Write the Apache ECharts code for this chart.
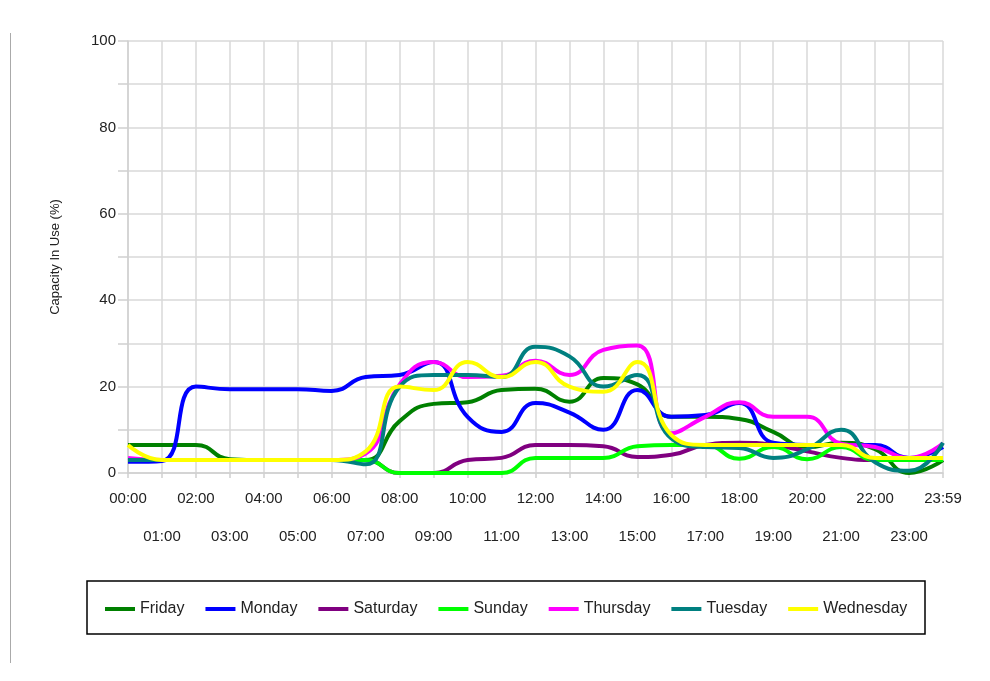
<!DOCTYPE html>
<html>
<head>
<meta charset="utf-8">
<script src="https://cdn.jsdelivr.net/npm/echarts@6/dist/echarts.min.js"></script>
<style>
  html, body { margin: 0; padding: 0; background: #fff; }
  #chart { width: 990px; height: 681px; }
</style>
</head>
<body>
<div id="chart"></div>
<script>
(function() {
  // hours along the x axis
  var hours = ['00:00', '01:00', '02:00', '03:00', '04:00', '05:00', '06:00', '07:00', '08:00', '09:00',
    '10:00', '11:00', '12:00', '13:00', '14:00', '15:00', '16:00', '17:00', '18:00', '19:00',
    '20:00', '21:00', '22:00', '23:00', '23:59'];

  var friday    = [6.5, 6.5, 6.5, 3.2, 3, 3, 3, 3, 12, 16, 16.4, 19.2, 19.5, 16.5, 22, 20.5, 13, 13, 12.5, 9.5, 6, 7, 5.5, 0, 3];
  var monday    = [2.6, 2.8, 20, 19.4, 19.4, 19.4, 19, 22.2, 22.7, 25.7, 13, 9.5, 16.2, 14, 10, 19.2, 13, 13.4, 16.2, 7, 6.5, 6.5, 6.5, 3.5, 6];
  var saturday  = [3, 3, 3, 3, 3, 3, 3, 3, 0, 0, 3, 3.5, 6.5, 6.5, 6.2, 3.7, 4.2, 6.5, 7, 6.5, 5, 3.5, 3, 3, 3];
  var sunday    = [3, 3, 3, 3, 3, 3, 3, 3, 0, 0, 0, 0, 3.5, 3.5, 3.5, 6.2, 6.5, 6.5, 3.3, 6, 3.2, 6, 3, 3, 3];
  var thursday  = [3.5, 3, 3, 3, 3, 3, 3, 4.5, 20.5, 25.7, 22.2, 22.5, 26, 22.7, 28.5, 29.5, 9.2, 13, 16.4, 13, 13, 6.8, 6, 3.5, 6.9];
  var tuesday   = [3, 3, 3, 3, 3, 3, 3, 2, 20, 22.7, 22.7, 22.2, 29.2, 27, 20, 22.7, 8, 6, 5.8, 3.5, 5.5, 10, 2.5, 0.5, 7];
  var wednesday = [6.5, 3, 3, 3, 3, 3, 3, 5, 20, 19.2, 25.7, 22.2, 25.7, 20, 18.8, 25.7, 8.8, 6.5, 6.5, 6.5, 6.5, 6.5, 3.5, 3.5, 3.5];

  var yTicks = [0, 20, 40, 60, 80, 100];

  var font = '"Liberation Sans", Arial, sans-serif';

  var myChart = echarts.init(document.getElementById('chart'));

  function line(name, data, color) {
    return {
      name: name,
      type: 'line',
      data: data,
      smooth: true,
      symbol: 'none',
      color: color,
      lineStyle: { width: 4, color: color }
    };
  }

  var option = {
    animation: false,
    textStyle: { fontFamily: font },
    grid: { left: 128, right: 47, top: 41, bottom: 208 },
    legend: {
      left: 100,
      top: 596,
      icon: 'rect',
      itemWidth: 30,
      itemHeight: 4,
      itemGap: 21,
      textStyle: { fontFamily: font, fontSize: 16, color: '#222' },
      data: ['Friday', 'Monday', 'Saturday', 'Sunday', 'Thursday', 'Tuesday', 'Wednesday']
    },
    graphic: [
      {
        type: 'rect',
        shape: { x: 87, y: 581, width: 838, height: 53 },
        style: { fill: 'none', stroke: '#000', lineWidth: 1.5 }
      },
      {
        type: 'line',
        shape: { x1: 10.5, y1: 33, x2: 10.5, y2: 663 },
        style: { stroke: '#aaa', lineWidth: 1 }
      }
    ],
    xAxis: {
      type: 'category',
      boundaryGap: false,
      data: hours,
      axisLine: { lineStyle: { color: '#d0d0d0', width: 1.5 } },
      axisTick: { show: true, length: 5, interval: 0, lineStyle: { color: '#d0d0d0', width: 1.5 } },
      splitLine: { show: true, interval: 0, lineStyle: { color: '#d9d9d9', width: 1.5 } },
      axisLabel: {
        interval: 0,
        margin: 7,
        fontSize: 15,
        lineHeight: 38,
        color: '#222',
        fontFamily: font,
        formatter: function(v, i) {
          return i % 2 === 1 ? '\n' + v : v;
        }
      }
    },
    yAxis: {
      type: 'value',
      min: 0,
      max: 100,
      interval: 10,
      name: 'Capacity In Use (%)',
      nameLocation: 'middle',
      nameRotate: 90,
      nameGap: 66,
      nameTextStyle: { fontFamily: font, fontSize: 13, color: '#222' },
      axisLine: { show: true, lineStyle: { color: '#d0d0d0', width: 1.5 } },
      axisTick: { show: true, length: 10, lineStyle: { color: '#d0d0d0', width: 1.5 } },
      splitLine: { lineStyle: { color: '#d9d9d9', width: 1.5 } },
      axisLabel: {
        margin: 12,
        fontSize: 15,
        color: '#222',
        fontFamily: font,
        formatter: function(v) {
          return yTicks.indexOf(v) >= 0 ? String(v) : '';
        }
      }
    },
    series: [
      line('Friday', friday, '#008000'),
      line('Monday', monday, '#0000ff'),
      line('Saturday', saturday, '#800080'),
      line('Sunday', sunday, '#00ff00'),
      line('Thursday', thursday, '#ff00ff'),
      line('Tuesday', tuesday, '#008080'),
      line('Wednesday', wednesday, '#ffff00')
    ]
  };

  myChart.setOption(option);
  window.addEventListener('resize', function() {
    myChart.resize();
  });
})();
</script>
</body>
</html>
